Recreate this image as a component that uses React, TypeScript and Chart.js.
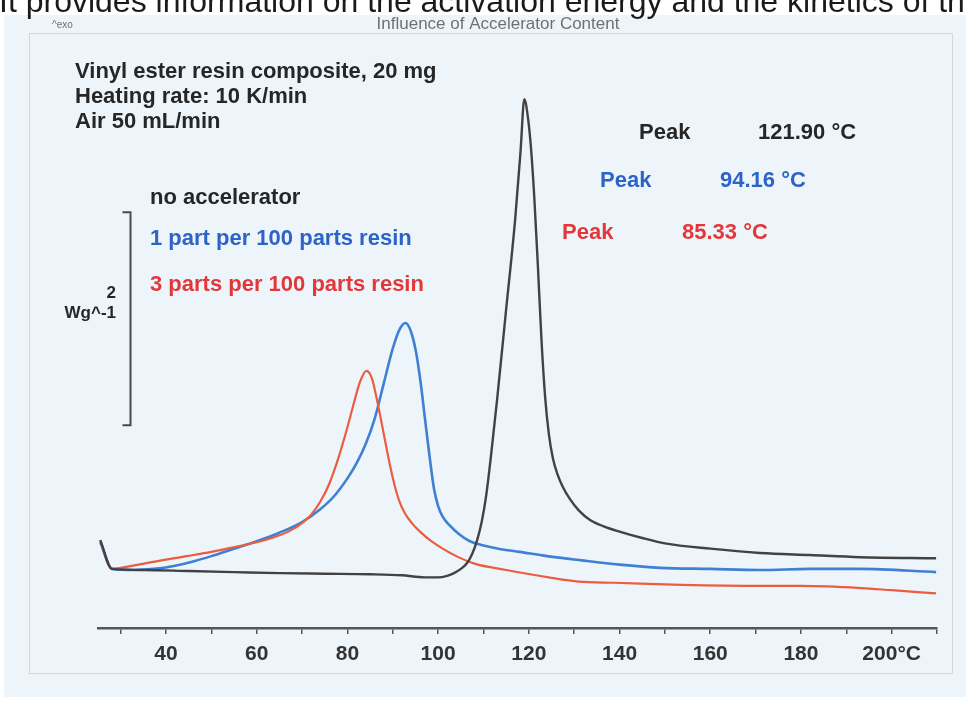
import React, { useEffect, useRef } from 'react';
import { Chart, registerables } from 'chart.js';

Chart.register(...registerables);

// ---- Data (temperature in °C, heat flow in W/g, exo up, arbitrary baseline) ----
const blackTemps = [25.5, 28.1, 35, 45, 55, 65, 75, 85, 92, 97, 100, 102, 103.5, 105, 106.3, 107.5, 108.6, 109.6, 110.6, 111.6, 113, 115, 117, 118.2, 119, 119.8, 120.5, 121.2, 122, 122.8, 123.6, 124.4, 125.3, 126.3, 127.5, 129, 131, 133.5, 136.5, 140, 145, 150, 160, 171, 182, 193, 209.8];
const blackValues = [0.28, 0.01, 0.0, -0.01, -0.02, -0.03, -0.035, -0.04, -0.05, -0.07, -0.07, -0.055, -0.03, 0.01, 0.06, 0.15, 0.28, 0.45, 0.7, 1.05, 1.6, 2.45, 3.3, 3.95, 4.42, 4.25, 3.95, 3.5, 2.85, 2.15, 1.62, 1.28, 1.05, 0.9, 0.78, 0.67, 0.56, 0.47, 0.41, 0.36, 0.3, 0.25, 0.2, 0.16, 0.14, 0.12, 0.11];

const blueTemps = [25.5, 28.1, 33, 37.4, 42, 46, 50, 55, 60, 65, 70, 74, 77, 80, 82, 84, 86, 88, 90, 91.5, 92.8, 94, 95.2, 96.2, 97.1, 98.1, 99.1, 100, 101, 102.5, 104.5, 107, 110, 113.3, 118, 124, 131.6, 140, 149, 160, 171, 182, 193, 209.8];
const blueValues = [0.26, 0.01, 0.0, 0.01, 0.04, 0.08, 0.13, 0.2, 0.27, 0.35, 0.45, 0.57, 0.69, 0.86, 1.0, 1.18, 1.42, 1.75, 2.08, 2.26, 2.32, 2.24, 2.03, 1.74, 1.42, 1.07, 0.76, 0.6, 0.5, 0.42, 0.34, 0.27, 0.23, 0.2, 0.17, 0.13, 0.09, 0.05, 0.02, 0.01, 0.0, 0.01, 0.01, -0.02];

const redTemps = [25.5, 28.1, 30, 34, 39, 44.6, 50, 55.6, 60, 64, 67, 70, 72, 74, 76, 78, 80, 81.5, 82.8, 84.2, 85.4, 86.5, 87.5, 88.5, 89.5, 90.5, 91.5, 92.7, 94.2, 96, 98.5, 101, 104, 108, 115, 124.4, 131, 138.9, 153.7, 171.3, 180, 193.3, 200, 209.8];
const redValues = [0.28, 0.01, 0.02, 0.05, 0.09, 0.13, 0.17, 0.22, 0.26, 0.31, 0.36, 0.44, 0.52, 0.64, 0.81, 1.05, 1.34, 1.58, 1.77, 1.87, 1.8, 1.6, 1.39, 1.17, 0.96, 0.78, 0.64, 0.53, 0.44, 0.36, 0.27, 0.2, 0.13, 0.06, 0.0, -0.07, -0.11, -0.12, -0.14, -0.15, -0.15, -0.17, -0.19, -0.22];

const xTickValues = [30, 40, 50, 60, 70, 80, 90, 100, 110, 120, 130, 140, 150, 160, 170, 180, 190, 200, 210];
const xTickLabels = ['', '40', '', '60', '', '80', '', '100', '', '120', '', '140', '', '160', '', '180', '', '200°C', ''];

const seriesNames = ['no accelerator', '1 part per 100 parts resin', '3 parts per 100 parts resin'];
const peakTexts = ['121.90 °C', '94.16 °C', '85.33 °C'];
const infoLines = ['Vinyl ester resin composite, 20 mg', 'Heating rate: 10 K/min', 'Air 50 mL/min'];
const scaleBarSpan = 2; // W/g
const scaleBarFrom = 1.36;
const scaleBarTemp = 32.1;

const X_MIN = 25;
const X_MAX = 210;
const Y_MIN = -0.545;
const Y_MAX = 4.977;

const COLORS = {
  black: '#424242',
  blue: '#3f80d2',
  red: '#ec5d3f',
  blueText: '#2d63c6',
  redText: '#e2383a',
  text: '#262626',
};

const FONT = '"Liberation Sans", Arial, sans-serif';

const decorPlugin = {
  id: 'decor',
  beforeDraw(chart: any) {
    const ctx = chart.ctx;
    ctx.save();
    ctx.fillStyle = '#ffffff';
    ctx.fillRect(0, 0, chart.width, chart.height);
    ctx.fillStyle = '#edf5fb';
    ctx.fillRect(4, 15, 962, 682);
    // faint frame
    ctx.strokeStyle = '#d2d9de';
    ctx.lineWidth = 1;
    ctx.strokeRect(29.5, 33.5, 923, 640);
    // cut-off caption line at the very top
    ctx.fillStyle = '#1a1a1a';
    ctx.font = `32px ${FONT}`;
    ctx.textBaseline = 'alphabetic';
    ctx.fillText('It provides information on the activation energy and the kinetics of th', -1, 12);
    // header
    ctx.fillStyle = '#707070';
    ctx.font = `17px ${FONT}`;
    ctx.textAlign = 'center';
    ctx.textBaseline = 'middle';
    ctx.fillText('Influence of Accelerator Content', 498, 24);
    ctx.textAlign = 'left';
    ctx.font = `10px ${FONT}`;
    ctx.fillText('^exo', 52, 25);
    ctx.restore();
  },
  afterDraw(chart: any) {
    const ctx = chart.ctx;
    const xs = chart.scales.x;
    const ys = chart.scales.y;
    ctx.save();
    ctx.textBaseline = 'middle';
    ctx.textAlign = 'left';
    ctx.font = `bold 22px ${FONT}`;
    ctx.fillStyle = COLORS.text;
    infoLines.forEach((t, i) => ctx.fillText(t, 75, 72 + i * 25));

    // series labels
    ctx.fillStyle = COLORS.text;
    ctx.fillText(seriesNames[0], 150, 198);
    ctx.fillStyle = COLORS.blueText;
    ctx.fillText(seriesNames[1], 150, 239);
    ctx.fillStyle = COLORS.redText;
    ctx.fillText(seriesNames[2], 150, 285);

    // peak labels
    ctx.fillStyle = COLORS.text;
    ctx.fillText('Peak', 639, 133);
    ctx.fillText(peakTexts[0], 758, 133);
    ctx.fillStyle = COLORS.blueText;
    ctx.fillText('Peak', 600, 181);
    ctx.fillText(peakTexts[1], 720, 181);
    ctx.fillStyle = COLORS.redText;
    ctx.fillText('Peak', 562, 233);
    ctx.fillText(peakTexts[2], 682, 233);

    // scale bar
    const bx = Math.round(xs.getPixelForValue(scaleBarTemp)) + 0.5;
    const yTop = ys.getPixelForValue(scaleBarFrom + scaleBarSpan);
    const yBot = ys.getPixelForValue(scaleBarFrom);
    ctx.strokeStyle = '#4a4a4a';
    ctx.lineWidth = 2;
    ctx.beginPath();
    ctx.moveTo(bx - 8, yTop);
    ctx.lineTo(bx, yTop);
    ctx.lineTo(bx, yBot);
    ctx.lineTo(bx - 8, yBot);
    ctx.stroke();
    ctx.fillStyle = COLORS.text;
    ctx.textAlign = 'right';
    ctx.font = `bold 17px ${FONT}`;
    ctx.fillText(String(scaleBarSpan), 116, 293);
    ctx.fillText('Wg^-1', 116, 313);
    ctx.restore();
  },
};

export default function App() {
  const canvasRef = useRef<HTMLCanvasElement | null>(null);

  useEffect(() => {
    const canvas = canvasRef.current;
    if (!canvas) return;
    const mk = (t: number[], v: number[]) => t.map((x, i) => ({ x, y: v[i] }));
    const chart = new Chart(canvas, {
      type: 'line',
      data: {
        datasets: [
          { label: seriesNames[0], data: mk(blackTemps, blackValues), borderColor: COLORS.black, borderWidth: 2.4 },
          { label: seriesNames[2], data: mk(redTemps, redValues), borderColor: COLORS.red, borderWidth: 2.2 },
          { label: seriesNames[1], data: mk(blueTemps, blueValues), borderColor: COLORS.blue, borderWidth: 2.6 },
        ],
      },
      options: {
        animation: false,
        responsive: false,
        maintainAspectRatio: false,
        parsing: false,
        layout: { padding: { left: 98, right: 33, top: 40, bottom: 33 } },
        plugins: { legend: { display: false }, tooltip: { enabled: false } },
        elements: {
          point: { radius: 0 },
          line: { cubicInterpolationMode: 'monotone', fill: false },
        },
        scales: {
          x: {
            type: 'linear',
            min: X_MIN,
            max: X_MAX,
            afterBuildTicks: (s: any) => {
              s.ticks = xTickValues.map((v) => ({ value: v }));
            },
            afterFit: (s: any) => {
              s.height = 40;
            },
            ticks: {
              autoSkip: false,
              maxRotation: 0,
              padding: 8,
              color: '#333',
              font: { family: FONT, size: 21, weight: 'bold' },
              callback: (_v: any, i: number) => xTickLabels[i],
            },
            grid: { drawOnChartArea: false, drawTicks: true, tickLength: 6, color: '#555', lineWidth: 1.5 },
            border: { display: true, color: '#555', width: 2.5 },
          },
          y: { type: 'linear', display: false, min: Y_MIN, max: Y_MAX },
        },
      },
      plugins: [decorPlugin],
    } as any);
    return () => chart.destroy();
  }, []);

  return (
    <div style={{ position: 'fixed', left: 0, top: 0, width: 970, height: 701, overflow: 'hidden', background: '#fff' }}>
      <canvas ref={canvasRef} width={970} height={701} style={{ display: 'block' }} />
    </div>
  );
}
